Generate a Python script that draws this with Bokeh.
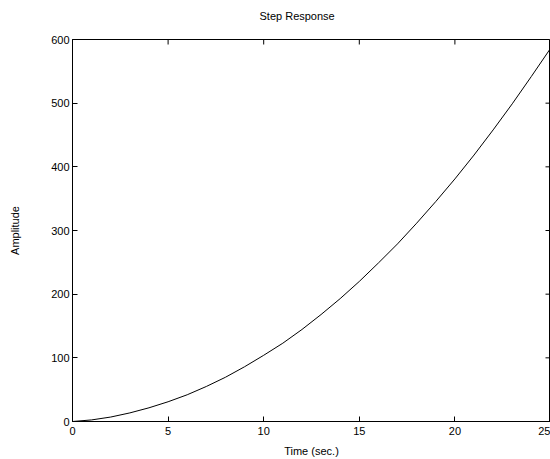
import math
from bokeh.plotting import figure
from bokeh.models import Range1d, FixedTicker, LinearAxis
from bokeh.embed import file_html
from bokeh.resources import INLINE

# Step response (time in seconds, amplitude)
time_s = [0, 1, 2, 3, 4, 5, 6, 7, 8, 9, 10, 11, 12, 13, 14, 15, 16, 17, 18, 19, 20, 21, 22, 23, 24, 25]
amplitude = [0, 2.5, 7, 13.5, 21.5, 31, 42, 55, 69.5, 86, 104, 123, 144.5, 168, 193, 220, 249, 279, 311.5, 345.5,
             381, 418.5, 458, 499, 542, 586]

x_ticks = [0, 5, 10, 15, 20, 25]
y_ticks = [0, 100, 200, 300, 400, 500, 600]

FONT = "Liberation Sans"

p = figure(width=550, height=459, output_backend="svg", toolbar_location=None,
           x_range=Range1d(x_ticks[0], x_ticks[-1]), y_range=Range1d(y_ticks[0], y_ticks[-1]),
           min_border_left=72, min_border_right=0, min_border_top=39, min_border_bottom=38,
           background_fill_color="white", border_fill_color="white")

p.line(time_s, amplitude, line_color="black", line_width=1)

# inward tick marks on the top and right edges of the box (clipped to the frame)
p.scatter(x=x_ticks, y=[y_ticks[-1]] * len(x_ticks), marker="dash", angle=math.pi / 2,
          size=10, line_color="black", line_width=1)
p.scatter(x=[x_ticks[-1]] * len(y_ticks), y=y_ticks, marker="dash", angle=0,
          size=10, line_color="black", line_width=1)

p.xgrid.visible = False
p.ygrid.visible = False
p.outline_line_color = "black"
p.outline_line_width = 1

def style(ax, ticks):
    ax.ticker = FixedTicker(ticks=ticks)
    ax.major_tick_in = 5
    ax.major_tick_out = 0
    ax.minor_tick_line_color = None
    ax.axis_line_color = "black"
    ax.major_tick_line_color = "black"
    ax.major_label_text_font = FONT
    ax.major_label_text_font_size = "11px"
    ax.major_label_text_color = "black"
    ax.axis_label_text_font = FONT
    ax.axis_label_text_font_size = "11px"
    ax.axis_label_text_font_style = "normal"
    ax.axis_label_text_color = "black"

xa = p.xaxis[0]
ya = p.yaxis[0]
style(xa, x_ticks)
style(ya, y_ticks)
xa.axis_label = "Time (sec.)"
ya.axis_label = "Amplitude"
xa.major_label_standoff = 5
ya.major_label_standoff = 3
xa.axis_label_standoff = 7
ya.axis_label_standoff = 27

# spacer between the box and the title: one white outward tick at the (off-screen) right corner
spacer = LinearAxis(ticker=FixedTicker(ticks=[x_ticks[-1]]), major_tick_in=0, major_tick_out=13,
                    major_tick_line_color="white", major_label_text_color=None, major_label_standoff=0,
                    axis_line_color=None, minor_tick_line_color=None)
p.add_layout(spacer, "above")

p.title.text = "Step Response"
p.title.text_font = FONT
p.title.text_font_size = "11px"
p.title.text_font_style = "normal"
p.title.text_color = "black"
p.title.align = "left"
p.title.offset = 187
p.title.standoff = 10

open("out.html", "w").write(file_html(p, INLINE))
